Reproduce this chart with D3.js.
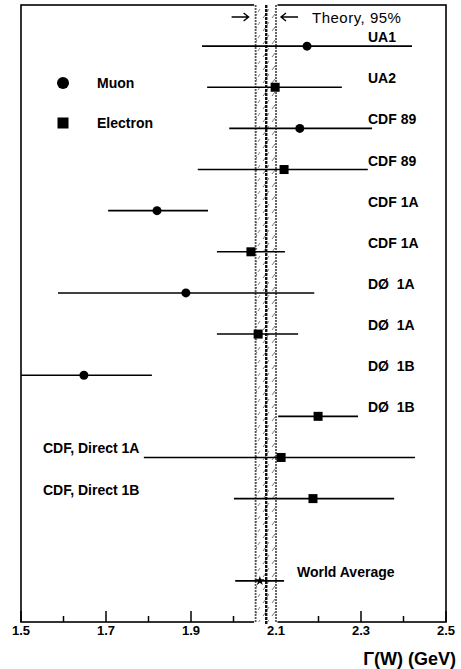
<!DOCTYPE html>
<html><head><meta charset="utf-8">
<script src="https://cdn.jsdelivr.net/npm/d3@7"></script>
<style>
html,body{margin:0;padding:0;background:#fff;}
svg text{font-family:"Liberation Sans",Arial,Helvetica,sans-serif;fill:#000;white-space:pre;}
</style></head>
<body><svg id="c" width="461" height="669"></svg>
<script>
const labels = ["UA1","UA2","CDF 89","CDF 89","CDF 1A","CDF 1A","DØ  1A","DØ  1A","DØ  1B","DØ  1B","CDF, Direct 1A","CDF, Direct 1B","World Average"];
const kinds  = ["muon","electron","muon","electron","muon","electron","muon","electron","muon","electron","electron","electron","average"];
const rows   = [1,2,3,4,5,6,7,8,9,10,11,12,14];
const values = [2.173,2.098,2.156,2.119,1.820,2.041,1.888,2.058,1.648,2.199,2.112,2.187,2.062];
const lows   = [1.926,1.938,1.990,1.916,1.705,1.961,1.587,1.961,1.460,2.105,1.789,2.001,2.004];
const highs  = [2.420,2.255,2.326,2.316,1.940,2.121,2.190,2.152,1.808,2.293,2.427,2.378,2.119];
const theory = {lo:2.052, mid:2.077, hi:2.100};
const xTicks = [1.5,1.6,1.7,1.8,1.9,2.0,2.1,2.2,2.3,2.4,2.5];
const xTickLabels = ["1.5","1.7","1.9","2.1","2.3","2.5"];
const legendItems = ["Muon","Electron"];

const svg = d3.select("#c");
const L=21, R=446, T=5, B=622;
const x = d3.scaleLinear().domain([1.5,2.5]).range([L,R]);
const y = d3.scaleLinear().domain([0,15]).range([T,B]);

svg.append("defs").append("clipPath").attr("id","clip")
  .append("rect").attr("x",L).attr("y",T).attr("width",R-L).attr("height",B-T);
const hp = svg.select("defs").append("pattern").attr("id","hatch")
  .attr("patternUnits","userSpaceOnUse").attr("width",9).attr("height",13);
hp.append("path").attr("d","M2,5 L5,1").attr("stroke","#666").attr("stroke-width",0.9);
hp.append("path").attr("d","M6,12 L8,9").attr("stroke","#777").attr("stroke-width",0.9);

// frame
svg.append("rect").attr("x",L).attr("y",T).attr("width",R-L).attr("height",B-T)
  .attr("fill","none").attr("stroke","#000").attr("stroke-width",1.6);

// ticks
const g = svg.append("g");
xTicks.forEach(t=>{
  const major = xTickLabels.includes(d3.format(".1f")(t));
  g.append("line").attr("x1",x(t)).attr("x2",x(t)).attr("y1",B).attr("y2",B-(major?11:6))
    .attr("stroke","#000").attr("stroke-width",1.5);
});
xTickLabels.forEach(s=>{
  svg.append("text").attr("x",x(+s)).attr("y",B+13).attr("text-anchor","middle")
    .attr("font-size",13).attr("font-weight","bold").text(s);
});
svg.append("text").attr("x",456).attr("y",665).attr("text-anchor","end")
  .attr("font-size",18).attr("font-weight","bold").text("Γ(W) (GeV)");

// theory band
svg.append("rect").attr("x",x(theory.lo)-1.5).attr("y",T-2).attr("width",x(theory.hi)-x(theory.lo)+3).attr("height",B-T+4)
  .attr("fill","#fff");
svg.append("rect").attr("x",x(theory.lo)).attr("y",T).attr("width",x(theory.hi)-x(theory.lo)).attr("height",B-T)
  .attr("fill","url(#hatch)");
[theory.lo, theory.hi].forEach(v=>{
  svg.append("line").attr("x1",x(v)).attr("x2",x(v)).attr("y1",T).attr("y2",B)
    .attr("stroke","#555").attr("stroke-width",1.8).attr("stroke-dasharray","2,1");
});
svg.append("line").attr("x1",x(theory.mid)).attr("x2",x(theory.mid)).attr("y1",T).attr("y2",B+2)
  .attr("stroke","#111").attr("stroke-width",2.4).attr("stroke-dasharray","3,1");
// arrows pointing at band
const ay = 17;
const xl = x(theory.lo)-7, xr = x(theory.hi)+5;
svg.append("path").attr("d",`M${xl-17},${ay} L${xl},${ay} M${xl-5},${ay-4} L${xl},${ay} L${xl-5},${ay+4}`)
  .attr("fill","none").attr("stroke","#000").attr("stroke-width",1.4);
svg.append("path").attr("d",`M${xr+17},${ay} L${xr},${ay} M${xr+5},${ay-4} L${xr},${ay} L${xr+5},${ay+4}`)
  .attr("fill","none").attr("stroke","#000").attr("stroke-width",1.4);
svg.append("text").attr("x",312).attr("y",23).attr("font-size",15).attr("letter-spacing",0.5).text("Theory, 95%");

// data
const dg = svg.append("g").attr("clip-path","url(#clip)");
values.forEach((v,i)=>{
  const yy = y(rows[i]);
  dg.append("line").attr("x1",x(lows[i])).attr("x2",x(highs[i])).attr("y1",yy).attr("y2",yy)
    .attr("stroke","#000").attr("stroke-width",1.6);
  if(kinds[i]==="muon"){
    dg.append("circle").attr("cx",x(v)).attr("cy",yy).attr("r",4.5).attr("fill","#000");
  } else if(kinds[i]==="electron"){
    dg.append("rect").attr("x",x(v)-4.5).attr("y",yy-4.5).attr("width",9).attr("height",9).attr("fill","#000");
  } else {
    dg.append("path").attr("d",d3.symbol(d3.symbolStar,28)()).attr("transform",`translate(${x(v)},${yy})`).attr("fill","#000");
  }
});
labels.forEach((s,i)=>{
  const yy = y(rows[i]);
  let lx = 368;
  if(s.startsWith("CDF, Direct")) lx = 43;
  if(kinds[i]==="average") lx = 297;
  svg.append("text").attr("x",lx).attr("y",yy-4)
    .attr("font-size",14).attr("font-weight","bold").text(s);
});

// legend
legendItems.forEach((s,i)=>{
  const yy = 83 + i*40;
  if(i===0) svg.append("circle").attr("cx",63).attr("cy",yy).attr("r",6).attr("fill","#000");
  else svg.append("rect").attr("x",57.5).attr("y",yy-5.5).attr("width",11).attr("height",11).attr("fill","#000");
  svg.append("text").attr("x",97).attr("y",yy+5).attr("font-size",14).attr("font-weight","bold").text(s);
});
</script></body></html>
